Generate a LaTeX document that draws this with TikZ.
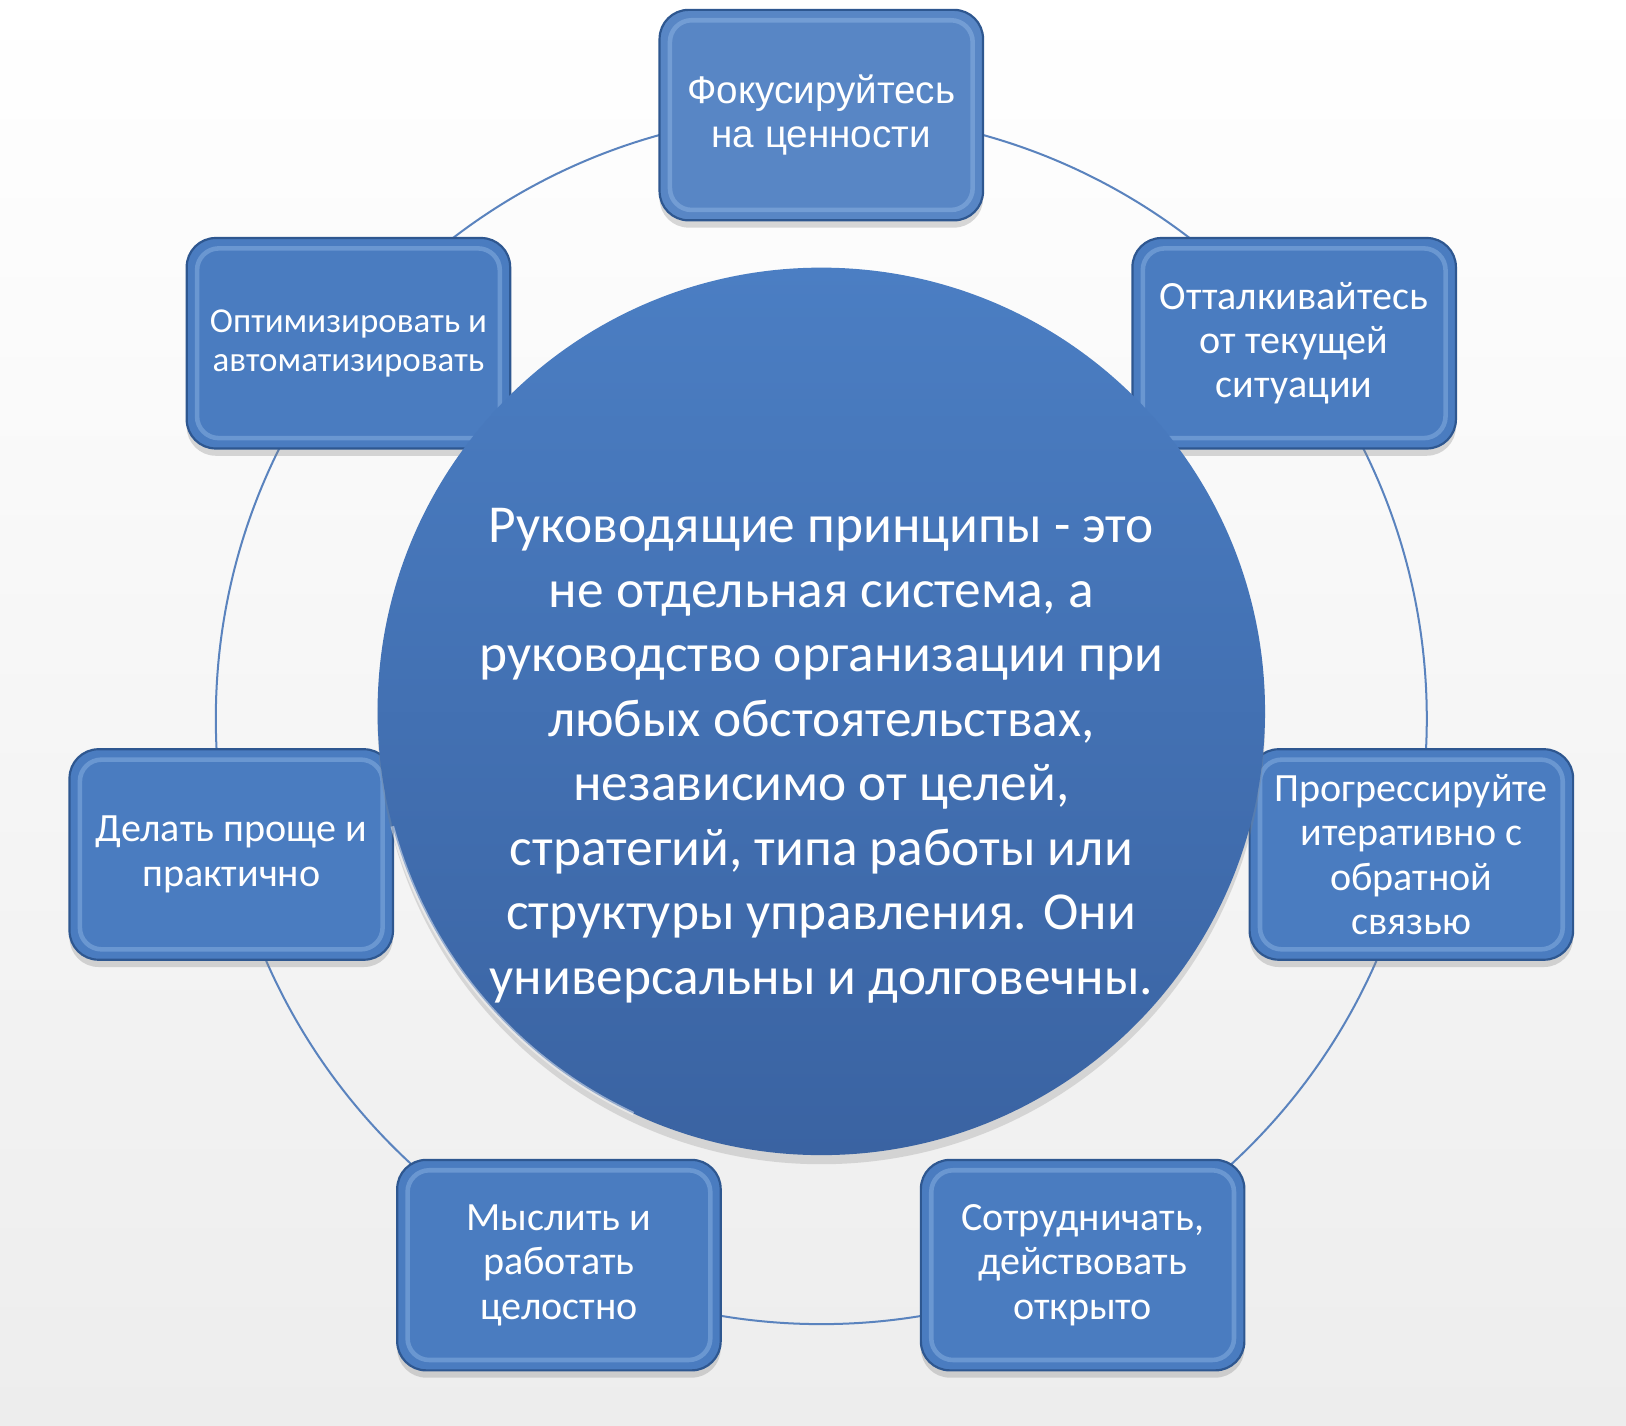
\documentclass[tikz,border=0pt]{standalone}
\usepackage{fontspec}
\setmainfont{Carlito}
\newfontfamily\arialfont{Liberation Sans}
\usetikzlibrary{shadows}

\definecolor{boxblue}{HTML}{4A7CC0}
\definecolor{boxedge}{HTML}{2E5790}
\definecolor{boxglow}{HTML}{9CC0EC}
\definecolor{ringblue}{HTML}{5A83BE}
\definecolor{hubtop}{HTML}{4B7EC3}
\definecolor{hubbottom}{HTML}{3A63A2}
\definecolor{paperbottom}{HTML}{EDEDED}

\tikzset{
  principle/.style={draw=boxedge, line width=1.2pt, fill=boxblue, rounded corners=0.56cm,
    minimum width=6.24cm, minimum height=4.06cm, text=white, align=center,
    font=\fontsize{22}{24.4}\selectfont,
    drop shadow={opacity=0.3, shadow xshift=0pt, shadow yshift=-4pt},
    path picture={\draw[boxglow, line width=2.5pt, opacity=0.4, rounded corners=0.42cm]
      ([shift={(0.2cm,0.2cm)}]path picture bounding box.south west) rectangle
      ([shift={(-0.2cm,-0.2cm)}]path picture bounding box.north east);}},
  hubtext/.style={text=white, align=center, font=\fontsize{29.3}{35.4}\selectfont}
}

\begin{document}
\begin{tikzpicture}[x=0.02cm, y=-0.02cm]
	\useasboundingbox (0,0) rectangle (1568,1375);
	\shade[top color=white, bottom color=paperbottom] (0,0) rectangle (1568,1375);

	% ring behind the boxes
	\coordinate (ringcentre) at (792,693);
	\draw[ringblue, line width=1.1pt] (ringcentre) circle [radius=11.68cm];

	% the seven principles
	\node (value)[principle, fill=boxblue!92!white, font=\fontspec{Liberation Sans}\fontsize{21.2}{24}\selectfont] at (792,111) {Фокусируйтесь\\на ценности};
	\node (start)[principle] at (1248,331) {Отталкивайтесь\\от текущей\\ситуации};
	\node (iterate)[principle] at (1361,824) {Прогрессируйте\\итеративно с\\обратной\\связью};
	\node (collab)[principle] at (1044,1220) {Сотрудничать,\\действовать\\открыто};
	\node (holistic)[principle] at (539,1220) {Мыслить и\\работать\\целостно};
	\node (simple)[principle] at (223,824) {Делать проще и\\практично};
	\node (automate)[principle, font=\fontsize{19.2}{21.2}\selectfont] at (336,331) {Оптимизировать и\\автоматизировать};

	% centre
	\node (hub)[circle, minimum size=17.12cm, top color=hubtop, bottom color=hubbottom,
		drop shadow={opacity=0.25, shadow xshift=0pt, shadow yshift=-5pt}] at (792,686) {};
	\draw[white, opacity=0.45, line width=2pt] (hub.195) arc[start angle=195, end angle=245, radius=8.56cm];
	\node (hubnote)[hubtext] at (792,729) {Руководящие принципы - это\\не отдельная система, а\\руководство организации при\\любых обстоятельствах,\\независимо от целей,\\стратегий, типа работы или\\структуры управления. Они\\универсальны и долговечны.};
\end{tikzpicture}
\end{document}
